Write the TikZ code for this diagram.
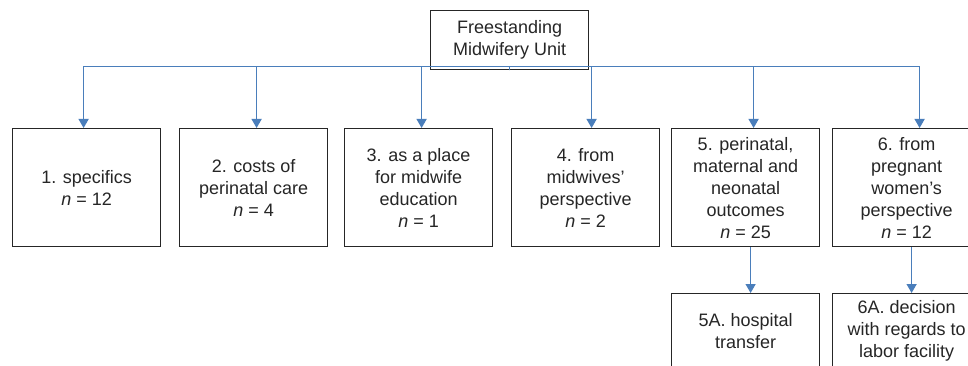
\documentclass[tikz,border=0pt]{standalone}
\usepackage{fontspec}
\setmainfont{Liberation Sans}
\usetikzlibrary{arrows.meta}
\definecolor{linkblue}{HTML}{4A7EBB}
\definecolor{boxline}{HTML}{262626}
\tikzset{
  catbox/.style={draw=boxline, line width=1.2pt, anchor=north west,
    minimum width=148pt, minimum height=118pt, align=center, inner sep=0pt,
    font=\fontsize{18}{22}\selectfont, text=boxline},
  subbox/.style={catbox, minimum height=75pt},
  topbox/.style={catbox, minimum width=158pt, minimum height=59pt},
  link/.style={draw=linkblue, line width=1.3pt,
    -{Triangle[width=10pt,length=9pt]}}
}
\begin{document}
\begin{tikzpicture}[x=1pt,y=-1pt]
\useasboundingbox (0,0) rectangle (968,366);
\fill[white] (0,0) rectangle (968,366);

\node[topbox] (root) at (430,10) {Freestanding\\Midwifery Unit};

\node[catbox] (c1) at (12,128)  {1. specifics\\\textit{n} = 12};
\node[catbox] (c2) at (179,128) {2. costs of\\perinatal care\\\textit{n} = 4};
\node[catbox] (c3) at (344,128) {3. as a place\\for midwife\\education\\\textit{n} = 1};
\node[catbox] (c4) at (511,128) {4. from\\midwives’\\perspective\\\textit{n} = 2};
\node[catbox] (c5) at (671,128) {5. perinatal,\\maternal and\\neonatal\\outcomes\\\textit{n} = 25};
\node[catbox] (c6) at (832,128) {6. from\\pregnant\\women’s\\perspective\\\textit{n} = 12};

\node[subbox] (s5) at (671,293) {5A. hospital\\transfer};
\node[subbox] (s6) at (832,293) {6A. decision\\with regards to\\labor facility};

% elbow connectors from the unit to each category
\coordinate (bus) at ([yshift=4pt]root.south);
\draw[link] (root.south) -- (bus) -| ([xshift=-3pt]c1.north);
\draw[link] (root.south) -- (bus) -| ([xshift=3pt]c2.north);
\draw[link] (root.south) -- (bus) -| ([xshift=3pt]c3.north);
\draw[link] (root.south) -- (bus) -| ([xshift=6pt]c4.north);
\draw[link] (root.south) -- (bus) -| ([xshift=8pt]c5.north);
\draw[link] (root.south) -- (bus) -| ([xshift=13pt]c6.north);

% sub-themes
\draw[link] ([xshift=5pt]c5.south) -- ([xshift=5pt]s5.north);
\draw[link] ([xshift=5pt]c6.south) -- ([xshift=5pt]s6.north);
\end{tikzpicture}
\end{document}
